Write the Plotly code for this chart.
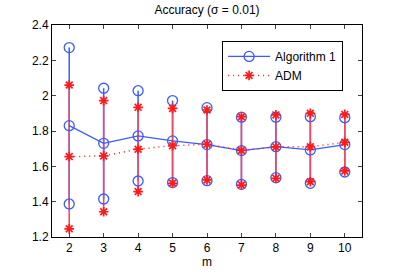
import plotly.graph_objects as go

m_values = [2, 3, 4, 5, 6, 7, 8, 9, 10]

alg1_mean = [1.830, 1.730, 1.772, 1.744, 1.723, 1.689, 1.711, 1.693, 1.723]
alg1_upper = [2.272, 2.042, 2.028, 1.972, 1.932, 1.878, 1.878, 1.881, 1.875]
alg1_lower = [1.387, 1.415, 1.517, 1.508, 1.519, 1.498, 1.536, 1.504, 1.568]

adm_mean = [1.655, 1.659, 1.697, 1.717, 1.725, 1.690, 1.710, 1.711, 1.736]
adm_upper = [2.060, 1.972, 1.934, 1.928, 1.919, 1.881, 1.891, 1.900, 1.894]
adm_lower = [1.246, 1.343, 1.457, 1.504, 1.523, 1.494, 1.532, 1.513, 1.574]

y_ticks = [1.2, 1.4, 1.6, 1.8, 2.0, 2.2, 2.4]
y_tick_labels = ["1.2", "1.4", "1.6", "1.8", "2", "2.2", "2.4"]

BLUE = "#3a5cff"
RED = "#ff1a1a"
SEG_RED = "#ee4a66"


def segments(xs, lo, hi):
    sx, sy = [], []
    for x, a, b in zip(xs, lo, hi):
        sx += [x, x, None]
        sy += [a, b, None]
    return sx, sy


fig = go.Figure()

bx, by = segments(m_values, alg1_lower, alg1_upper)
fig.add_trace(go.Scatter(x=bx, y=by, mode="lines", line=dict(color=BLUE, width=1.5),
                         showlegend=False, hoverinfo="skip"))
rx, ry = segments(m_values, adm_lower, adm_upper)
fig.add_trace(go.Scatter(x=rx, y=ry, mode="lines", line=dict(color=SEG_RED, width=1.6),
                         showlegend=False, hoverinfo="skip"))

DOT = "1px,4px"

fig.add_trace(go.Scatter(x=m_values, y=alg1_mean, mode="lines+markers", name="Algorithm 1",
                         line=dict(color=BLUE, width=1.3),
                         marker=dict(symbol="circle-open", size=10, color=BLUE, line=dict(width=1.3))))
fig.add_trace(go.Scatter(x=m_values + m_values, y=alg1_upper + alg1_lower, mode="markers",
                         marker=dict(symbol="circle-open", size=10, color=BLUE, line=dict(width=1.3)),
                         showlegend=False, hoverinfo="skip"))
fig.add_trace(go.Scatter(x=m_values, y=adm_mean, mode="lines+markers", name="ADM",
                         line=dict(color=RED, width=1.5, dash=DOT),
                         marker=dict(symbol="asterisk-open", size=8, color=RED, line=dict(width=1.7, color=RED))))
fig.add_trace(go.Scatter(x=m_values + m_values, y=adm_upper + adm_lower, mode="markers",
                         marker=dict(symbol="asterisk-open", size=8, color=RED, line=dict(width=1.7, color=RED)),
                         showlegend=False, hoverinfo="skip"))

W, H = 399, 274
fig.update_layout(
    width=W, height=H,
    margin=dict(l=52, r=37, t=25, b=37, autoexpand=False),
    paper_bgcolor="white", plot_bgcolor="white",
    font=dict(family="Liberation Sans, Arial, sans-serif", size=12, color="black"),
    title=dict(text="Accuracy (σ = 0.01)", x=207 / W, xanchor="center",
               y=1 - 10 / H, yanchor="middle", font=dict(size=12)),
    legend=dict(x=0.939, xanchor="right", y=0.925, yanchor="top",
                bgcolor="white", bordercolor="black", borderwidth=1,
                font=dict(size=12), tracegroupgap=0, itemwidth=42),
    showlegend=True,
)
fig.update_xaxes(range=[1.5, 10.5], tickvals=m_values, ticks="inside", ticklen=4,
                 showline=True, linecolor="black", linewidth=1, mirror="ticks",
                 showgrid=False, zeroline=False,
                 title=dict(text="m", standoff=3, font=dict(size=12)))
fig.update_yaxes(range=[1.2, 2.4], tickvals=y_ticks, ticktext=y_tick_labels, ticks="inside", ticklen=4,
                 showline=True, linecolor="black", linewidth=1, mirror="ticks",
                 showgrid=False, zeroline=False)

fig.write_html("out.html", config={"displayModeBar": False},
               post_script="document.body.style.margin='0px';")
